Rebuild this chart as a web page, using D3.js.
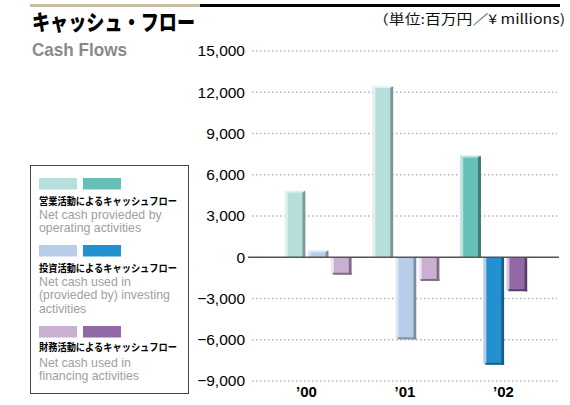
<!DOCTYPE html>
<html>
<head>
<meta charset="utf-8">
<script src="https://cdn.jsdelivr.net/npm/d3@7"></script>
<style>
  body { margin: 0; background: #fff; }
  svg { display: block; }
</style>
</head>
<body>
<script>
var years = ["’00", "’01", "’02"];
var operating = [4700, 12300, 7250];
var investing = [350, -5900, -7750];
var financing = [-1200, -1650, -2400];
var yTicks = [15000, 12000, 9000, 6000, 3000, 0, -3000, -6000, -9000];

// light colour for earlier years, strong colour for the latest year
var pal = {
  operating: { light: ["#e1f1ef", "#b6dedb", "#7c9998"], dark: ["#bfe3de", "#66c0b7", "#3f7d76"] },
  investing: { light: ["#dde7f4", "#b8cde9", "#7f8ea3"], dark: ["#b8cfea", "#2391d0", "#165d87"] },
  financing: { light: ["#efe5f1", "#c9afd0", "#7e6b85"], dark: ["#d8c5de", "#9169a6", "#573e66"] }
};
var series = ["operating", "investing", "financing"];
var values = { operating: operating, investing: investing, financing: financing };

var legendJp = ["営業活動によるキャッシュフロー", "投資活動によるキャッシュフロー", "財務活動によるキャッシュフロー"];
var legendEn = [
  ["Net cash provieded by", "operating activities"],
  ["Net cash used in", "(provieded by)  investing", "activities"],
  ["Net cash used in", "financing activities"]
];

var W = 570, H = 405;
var svg = d3.select("body").append("svg")
  .attr("width", W)
  .attr("height", H);

// header rules
svg.append("rect").attr("x", 30).attr("y", 4).attr("width", 170).attr("height", 3).style("fill", "#c8bfa6");
svg.append("rect").attr("x", 200).attr("y", 4).attr("width", 360).attr("height", 3).style("fill", "#000");

svg.append("text")
  .attr("x", 32).attr("y", 30)
  .attr("font-family", "Noto Sans CJK JP")
  .attr("font-weight", 900)
  .attr("font-size", 22)
  .attr("textLength", 163).attr("lengthAdjust", "spacingAndGlyphs")
  .style("fill", "#000")
  .text("キャッシュ・フロー");

svg.append("text")
  .attr("x", 32).attr("y", 56)
  .attr("font-family", "Liberation Sans Narrow, Liberation Sans, sans-serif")
  .attr("font-weight", "bold")
  .attr("font-size", 19)
  .attr("textLength", 95).attr("lengthAdjust", "spacingAndGlyphs")
  .style("fill", "#8a8a8a")
  .text("Cash Flows");

svg.append("text")
  .attr("x", 565).attr("y", 24)
  .attr("text-anchor", "end")
  .attr("font-family", "Noto Sans CJK JP")
  .attr("font-size", 13.5)
  .attr("textLength", 192).attr("lengthAdjust", "spacingAndGlyphs")
  .style("fill", "#111")
  .text("（単位:百万円／¥ millions)");

// scales
var y = d3.scaleLinear().domain([-9000, 15000]).range([381, 51]);
var x = d3.scaleBand().domain(years).range([273.6, 537]);
var xs = d3.scaleBand().domain(series).range([11, 78]).paddingInner(0.1);
var xl = d3.scalePoint().domain(years).range([306, 503]);

// grid
svg.selectAll(".grid")
  .data(yTicks.filter(function(d) { return d !== 0; }))
  .enter().append("line")
    .attr("x1", 252).attr("x2", 557)
    .attr("y1", function(d) { return y(d); })
    .attr("y2", function(d) { return y(d); })
    .style("stroke", "#a9b6c2")
    .style("stroke-width", 1.5)
    .style("stroke-dasharray", "1.5,2.5");

// y axis labels
var yAxis = svg.append("g")
  .attr("transform", "translate(247,0)")
  .call(d3.axisLeft(y).tickValues(yTicks).tickSize(0).tickPadding(2).tickFormat(d3.format(",")));
yAxis.select(".domain").remove();
yAxis.selectAll("text")
  .attr("font-family", "Liberation Sans, Arial, sans-serif")
  .attr("font-size", 15.5)
  .style("fill", "#000");

// bars
var bars = [];
years.forEach(function(yr, i) {
  series.forEach(function(s) {
    bars.push({ year: yr, i: i, s: s, v: values[s][i], c: i === years.length - 1 ? pal[s].dark : pal[s].light });
  });
});

var g = svg.selectAll(".bar")
  .data(bars)
  .enter().append("g")
    .attr("transform", function(d) { return "translate(" + (x(d.year) + xs(d.s)) + ",0)"; });

var bw = xs.bandwidth();
var y0 = y(0);

g.each(function(d) {
  var sel = d3.select(this);
  var yv = y(d.v);
  if (d.v >= 0) {
    sel.append("rect").attr("x", 0).attr("y", yv - 2).attr("width", bw - 2).attr("height", y0 - yv + 2).style("fill", d.c[0]);
    sel.append("rect").attr("x", 3).attr("y", yv).attr("width", bw - 6).attr("height", y0 - yv).style("fill", d.c[1]);
    sel.append("path")
      .attr("d", "M" + (bw - 3) + "," + yv + "L" + (bw - 1) + "," + (yv - 2) + "L" + bw + "," + (yv - 1) + "L" + bw + "," + y0 + "L" + (bw - 3) + "," + y0 + "Z")
      .style("fill", d.c[2]);
  } else {
    sel.append("rect").attr("x", 0).attr("y", y0).attr("width", 4).attr("height", yv - y0).style("fill", d.c[0]);
    sel.append("rect").attr("x", 3).attr("y", y0).attr("width", bw - 6).attr("height", yv - y0).style("fill", d.c[1]);
    sel.append("rect").attr("x", bw - 3).attr("y", y0).attr("width", 3).attr("height", yv - y0 + 1).style("fill", d.c[2]);
    sel.append("rect").attr("x", 2).attr("y", yv - 1).attr("width", bw - 2).attr("height", 2).style("fill", d.c[2]);
  }
});

// zero line
svg.append("line")
  .attr("x1", 248).attr("x2", 559)
  .attr("y1", y0).attr("y2", y0)
  .style("stroke", "#555")
  .style("stroke-width", 1.3);

// year labels
var xAxis = svg.append("g")
  .attr("transform", "translate(0,385)")
  .call(d3.axisBottom(xl).tickSize(0).tickPadding(0));
xAxis.select(".domain").remove();
xAxis.selectAll("text")
  .attr("dy", "0.8em")
  .attr("font-family", "Liberation Sans, Arial, sans-serif")
  .attr("font-weight", "bold")
  .attr("font-size", 15)
  .style("fill", "#000");

// legend
svg.append("rect")
  .attr("x", 30.5).attr("y", 165.5).attr("width", 158).attr("height", 228)
  .style("fill", "none")
  .style("stroke", "#444")
  .style("stroke-width", 1);

var legTop = [178, 245, 326];
var jpBase = [205, 272, 351];
var enBase = [[219, 232], [286, 299.5, 313], [367, 380]];

series.forEach(function(s, k) {
  svg.append("rect").attr("x", 39).attr("y", legTop[k]).attr("width", 38).attr("height", 11.5).style("fill", pal[s].light[1]);
  svg.append("rect").attr("x", 83).attr("y", legTop[k]).attr("width", 38).attr("height", 11.5).style("fill", pal[s].dark[1]);
  svg.append("text")
    .attr("x", 39).attr("y", jpBase[k])
    .attr("font-family", "Noto Sans CJK JP")
    .attr("font-weight", "bold")
    .attr("font-size", 10.5)
    .attr("textLength", 138).attr("lengthAdjust", "spacingAndGlyphs")
    .style("fill", "#000")
    .text(legendJp[k]);
  svg.selectAll(".en" + k)
    .data(legendEn[k])
    .enter().append("text")
      .attr("x", 39)
      .attr("y", function(d, i) { return enBase[k][i]; })
      .attr("font-family", "Liberation Sans Narrow, Liberation Sans, sans-serif")
      .attr("font-size", 13)
      .attr("transform", "translate(39,0) scale(0.95,1) translate(-39,0)")
      .style("fill", "#a0a0a0")
      .text(function(d) { return d; });
});
</script>
</body>
</html>
